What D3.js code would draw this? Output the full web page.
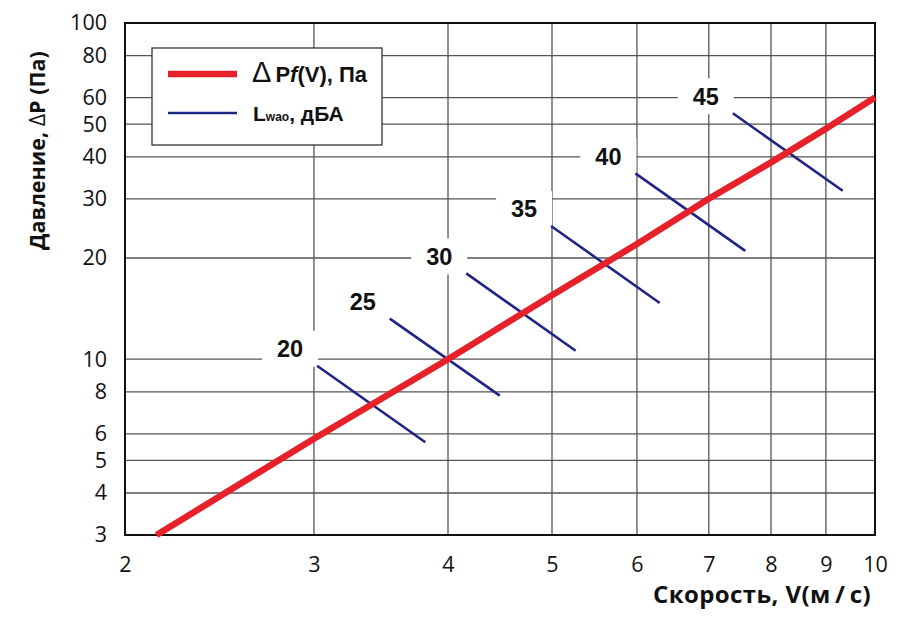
<!DOCTYPE html>
<html>
<head>
<meta charset="utf-8">
<script src="https://cdn.jsdelivr.net/npm/d3@7"></script>
<style>
    body { margin: 0; background: #fff; }
</style>
</head>
<body>
<script>

// data
const speed_values = [2.14, 3, 4, 5, 6, 7, 8, 9, 10];
const pressure_values = [3, 5.8, 10, 15.5, 22, 30, 38.5, 48.5, 60];

const noise_levels = [20, 25, 30, 35, 40, 45];
const noise_speed_start = [3.02, 3.53, 4.16, 4.99, 5.98, 7.37];
const noise_pressure_start = [9.56, 13.2, 18.0, 24.9, 35.7, 53.9];
const noise_speed_end = [3.81, 4.47, 5.26, 6.30, 7.57, 9.33];
const noise_pressure_end = [5.66, 7.79, 10.6, 14.7, 21.0, 31.7];

const x_ticks = [2, 3, 4, 5, 6, 7, 8, 9, 10];
const y_ticks = [3, 4, 5, 6, 8, 10, 20, 30, 40, 50, 60, 80, 100];

// setup
const WIDTH = 900;
const HEIGHT = 618;
const margin = {top: 23, right: 25, bottom: 83, left: 125};
const RED = "#e62129";
const BLUE = "#1f2585";
const SANS = "'Liberation Sans', Arial, sans-serif";
const HUMANIST = "'Open Sans', 'Noto Sans', sans-serif";

const svg = d3.select("body")
    .append("svg")
    .attr("width", WIDTH)
    .attr("height", HEIGHT);

const x = d3.scaleLog()
    .domain([2, 10])
    .range([margin.left, WIDTH - margin.right]);

const y = d3.scaleLog()
    .domain([3, 100])
    .range([HEIGHT - margin.bottom, margin.top]);

// grid
const grid = svg.append("g").attr("class", "Grid");
grid.selectAll("line.v")
    .data(x_ticks)
    .enter()
    .append("line")
    .attr("class", "v")
    .attr("x1", d => x(d)).attr("x2", d => x(d))
    .attr("y1", y(3)).attr("y2", y(100))
    .attr("stroke", "#555")
    .attr("stroke-width", 1.3);
grid.selectAll("line.h")
    .data(y_ticks)
    .enter()
    .append("line")
    .attr("class", "h")
    .attr("x1", x(2)).attr("x2", x(10))
    .attr("y1", d => y(d)).attr("y2", d => y(d))
    .attr("stroke", "#555")
    .attr("stroke-width", 1.3);

// axes (labels only, the frame is drawn separately)
const x_axis = svg.append("g")
    .attr("transform", `translate(0,${y(3)})`)
    .call(d3.axisBottom(x).tickValues(x_ticks).tickFormat(d3.format("d")).tickSize(0).tickPadding(22));
const y_axis = svg.append("g")
    .attr("transform", `translate(${x(2)},0)`)
    .call(d3.axisLeft(y).tickValues(y_ticks).tickFormat(d3.format("d")).tickSize(0).tickPadding(18));
[x_axis, y_axis].forEach(axis => {
    axis.select(".domain").remove();
    axis.selectAll("text")
        .attr("font-family", HUMANIST)
        .attr("font-size", 21.5)
        .attr("fill", "#111");
});

// frame
svg.append("rect")
    .attr("x", x(2)).attr("y", y(100))
    .attr("width", x(10) - x(2))
    .attr("height", y(3) - y(100))
    .attr("fill", "none")
    .attr("stroke", "#111")
    .attr("stroke-width", 2);

// noise lines
const noise_data = noise_levels.map((level, i) => ({
    level,
    start: [noise_speed_start[i], noise_pressure_start[i]],
    end: [noise_speed_end[i], noise_pressure_end[i]]
}));

const LABEL_DX = -27;
const LABEL_DY = -17;

svg.append("g").selectAll("rect")
    .data(noise_data)
    .enter()
    .append("rect")
    .attr("x", d => x(d.start[0]) + LABEL_DX - 28)
    .attr("y", d => y(d.start[1]) + LABEL_DY - 18)
    .attr("width", 56)
    .attr("height", 36)
    .attr("fill", "#fff");

svg.append("g").selectAll("line")
    .data(noise_data)
    .enter()
    .append("line")
    .attr("x1", d => x(d.start[0])).attr("y1", d => y(d.start[1]))
    .attr("x2", d => x(d.end[0])).attr("y2", d => y(d.end[1]))
    .attr("stroke", BLUE)
    .attr("stroke-width", 2.6);

svg.append("g").selectAll("text")
    .data(noise_data)
    .enter()
    .append("text")
    .attr("x", d => x(d.start[0]) + LABEL_DX)
    .attr("y", d => y(d.start[1]) + LABEL_DY)
    .attr("dy", "0.36em")
    .attr("text-anchor", "middle")
    .attr("font-family", SANS)
    .attr("font-weight", "bold")
    .attr("font-size", 23.5)
    .attr("fill", "#111")
    .text(d => d.level);

// pressure line
const pressure_line = d3.line()
    .x(d => x(d[0]))
    .y(d => y(d[1]));

svg.append("path")
    .datum(speed_values.map((v, i) => [v, pressure_values[i]]))
    .attr("d", pressure_line)
    .attr("fill", "none")
    .attr("stroke", RED)
    .attr("stroke-width", 6.5);

// legend
const legend = svg.append("g");
legend.append("rect")
    .attr("x", 152).attr("y", 48)
    .attr("width", 230).attr("height", 97)
    .attr("fill", "#fff")
    .attr("stroke", "#333")
    .attr("stroke-width", 1.3);
legend.append("line")
    .attr("x1", 168).attr("x2", 237)
    .attr("y1", 74).attr("y2", 74)
    .attr("stroke", RED)
    .attr("stroke-width", 6.5);
legend.append("line")
    .attr("x1", 168).attr("x2", 237)
    .attr("y1", 113).attr("y2", 113)
    .attr("stroke", BLUE)
    .attr("stroke-width", 2.6);

const legend_text_1 = legend.append("text")
    .attr("x", 252).attr("y", 82)
    .attr("font-family", SANS)
    .attr("font-weight", "bold")
    .attr("font-size", 22)
    .attr("fill", "#111");
legend_text_1.append("tspan")
    .attr("font-weight", "normal")
    .attr("font-size", 29)
    .text("Δ");
legend_text_1.append("tspan").attr("dx", 4).text("P");
legend_text_1.append("tspan").attr("font-style", "italic").text("f");
legend_text_1.append("tspan").text("(V), Па");

const legend_text_2 = legend.append("text")
    .attr("x", 253).attr("y", 121)
    .attr("font-family", SANS)
    .attr("font-weight", "bold")
    .attr("font-size", 21)
    .attr("fill", "#111");
legend_text_2.append("tspan").text("L");
legend_text_2.append("tspan").attr("font-size", 12).text("wao");
legend_text_2.append("tspan").text(", дБА");

// axis titles
svg.append("text")
    .attr("x", 871).attr("y", 603)
    .attr("text-anchor", "end")
    .attr("font-family", HUMANIST)
    .attr("font-weight", "bold")
    .attr("font-size", 24)
    .attr("letter-spacing", 0.4)
    .attr("fill", "#111")
    .text("Скорость, V(м\u2009/\u2009с)");

const y_title = svg.append("text")
    .attr("transform", "translate(45,250) rotate(-90)")
    .attr("text-anchor", "start")
    .attr("font-family", HUMANIST)
    .attr("font-weight", "bold")
    .attr("font-size", 21.5)
    .attr("fill", "#111");
y_title.append("tspan").text("Давление, ");
y_title.append("tspan").attr("font-weight", "normal").text("Δ");
y_title.append("tspan").text("P (Па)");

</script>
</body>
</html>
